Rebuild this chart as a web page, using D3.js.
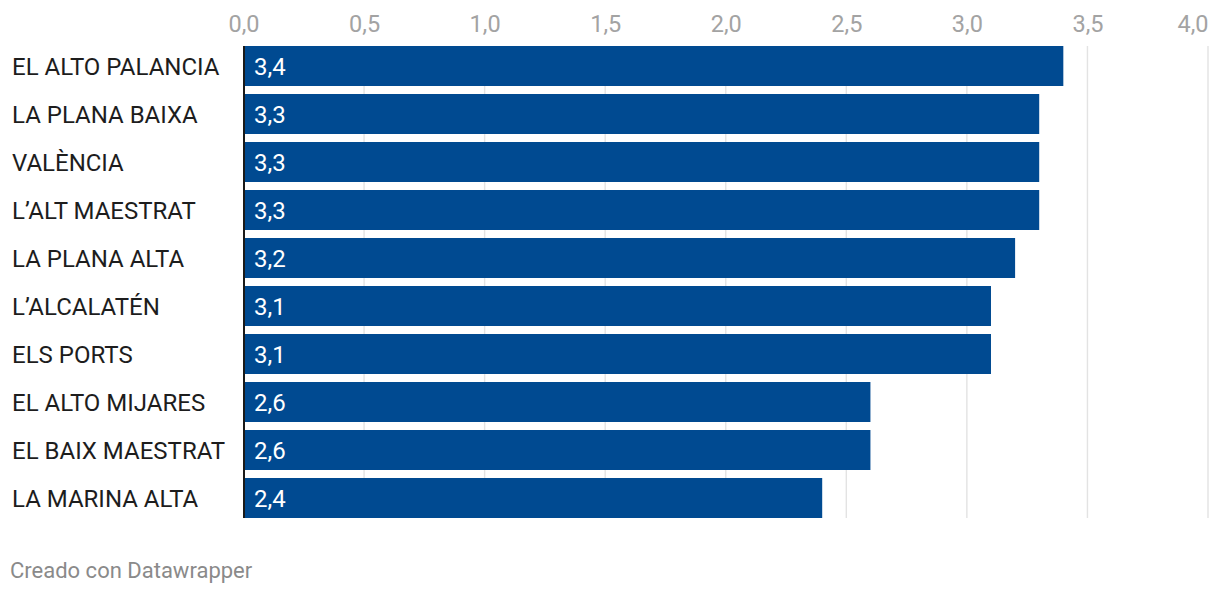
<!DOCTYPE html>
<html><head><meta charset="utf-8">
<script src="https://cdn.jsdelivr.net/npm/d3@7"></script>
<style>body{margin:0;background:#fff;font-family:Roboto,sans-serif}</style>
</head><body><svg id="c" width="1220" height="594"></svg>
<script>
const categories = ["EL ALTO PALANCIA","LA PLANA BAIXA","VALÈNCIA","L’ALT MAESTRAT","LA PLANA ALTA","L’ALCALATÉN","ELS PORTS","EL ALTO MIJARES","EL BAIX MAESTRAT","LA MARINA ALTA"];
const values = [3.4,3.3,3.3,3.3,3.2,3.1,3.1,2.6,2.6,2.4];
const ticks = [0,0.5,1,1.5,2,2.5,3,3.5,4];
const fmt = v => d3.format(".1f")(v).replace(".", ",");

const svg = d3.select("#c");
const x = d3.scaleLinear().domain([0,4]).range([243.5, 1208]);
const y = d3.scaleBand().domain(categories).range([46, 46+48*10-8]).paddingInner(8/48).paddingOuter(0);

const grid = svg.append("g");
grid.selectAll("line").data(ticks.slice(1)).join("line")
  .attr("x1", d=>x(d)).attr("x2", d=>x(d)).attr("y1", 46).attr("y2", 518)
  .attr("stroke", "#e3e3e3").attr("stroke-width", 1.4);

const axis = d3.axisTop(x).tickValues(ticks).tickFormat(fmt).tickSize(0).tickPadding(0);
const ga = svg.append("g").attr("transform", "translate(0,31.5)").call(axis);
ga.select(".domain").remove();
ga.selectAll("text").attr("fill", "#a3a3a3").attr("font-size", 23.5).attr("font-family", "Roboto").attr("dy", 0)
  .attr("text-anchor", (d,i)=> i === ticks.length-1 ? "end" : "middle");

svg.append("g").selectAll("rect").data(values).join("rect")
  .attr("x", x(0)).attr("y", (d,i)=>y(categories[i]))
  .attr("width", d=>x(d)-x(0)).attr("height", y.bandwidth())
  .attr("fill", "#004a91");

svg.append("line").attr("x1", 244).attr("x2", 244).attr("y1", 46).attr("y2", 518)
  .attr("stroke", "#1a1a1a").attr("stroke-width", 2);

svg.append("g").selectAll("text").data(values).join("text")
  .attr("x", 254).attr("y", (d,i)=>y(categories[i]) + y.bandwidth()/2 + 8.5)
  .attr("fill", "#fff").attr("font-size", 24).text(d=>fmt(d));

svg.append("g").selectAll("text").data(categories).join("text")
  .attr("x", 12).attr("y", d=>y(d) + y.bandwidth()/2 + 8.5)
  .attr("fill", "#1d1d1d").attr("font-size", 24).text(d=>d);

svg.append("text").attr("x", 10).attr("y", 578).attr("fill", "#8a8a8a")
  .attr("font-size", 22).text("Creado con Datawrapper");
</script></body></html>
